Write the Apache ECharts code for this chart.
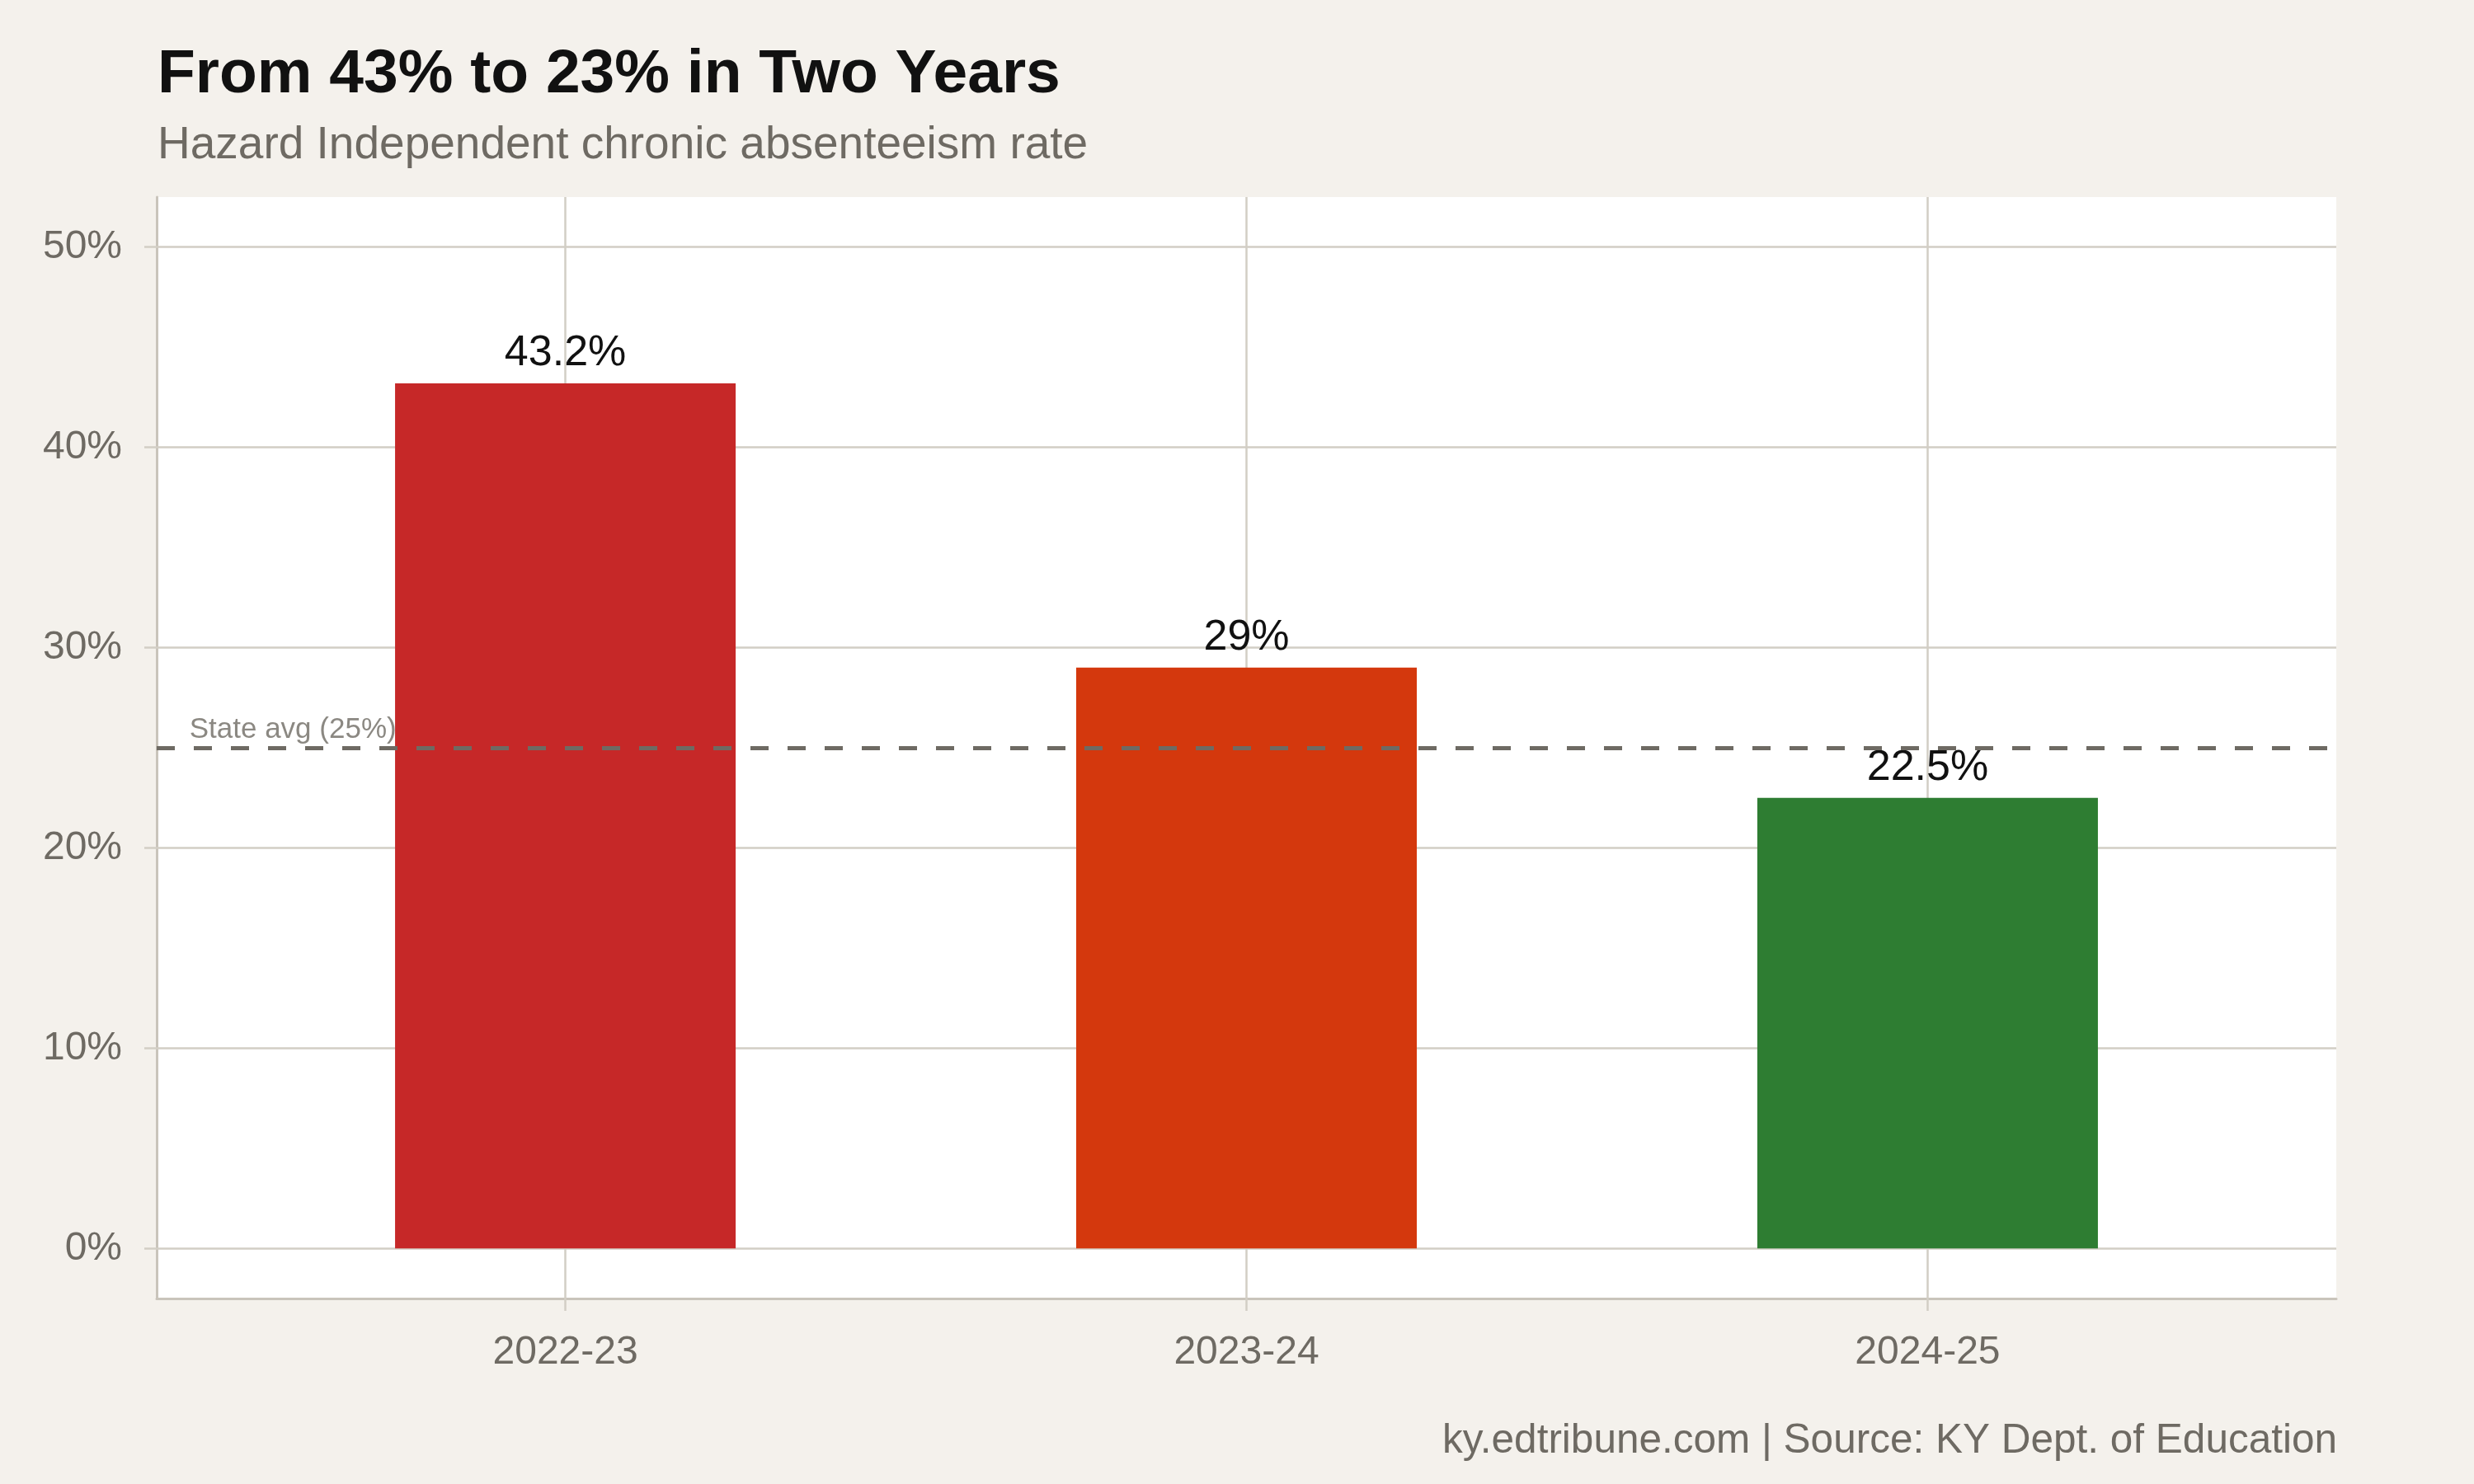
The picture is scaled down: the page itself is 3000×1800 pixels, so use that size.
<!DOCTYPE html>
<html>
<head>
<meta charset="utf-8">
<script src="https://cdn.jsdelivr.net/npm/echarts@6/dist/echarts.min.js"></script>
<style>
html,body{margin:0;padding:0;background:#f4f1ec;}
#chart{width:3000px;height:1800px;}
</style>
</head>
<body>
<div id="chart"></div>
<script>
const categories = ['2022-23', '2023-24', '2024-25'];
const rates = [43.2, 29, 22.5];
const barColors = ['#c62828', '#d4380d', '#2e7d32'];
const yTicks = [0, 10, 20, 30, 40, 50];
const xPositions = [1, 2, 3];
const stateAvg = 25;
const stateAvgLabelX = 0.6;
const stateAvgLabel = 'State avg (25%)';
const titleText = 'From 43% to 23% in Two Years';
const subtitleText = 'Hazard Independent chronic absenteeism rate';
const captionText = 'ky.edtribune.com | Source: KY Dept. of Education';

const FONT = '"Liberation Sans", Arial, Helvetica, sans-serif';
const GRAY = '#6e6a63';
const GRID = '#d2cec5';
const AXIS = '#c9c4bb';

const chart = echarts.init(document.getElementById('chart'), null, {renderer: 'canvas'});
chart.setOption({
  animation: false,
  backgroundColor: '#f4f1ec',
  title: [
    {text: titleText, left: 186, top: 49,
     textStyle: {fontFamily: FONT, fontSize: 75, fontWeight: 'bold', color: '#111'}},
    {text: subtitleText, left: 186, top: 144,
     textStyle: {fontFamily: FONT, fontSize: 55, fontWeight: 'normal', color: GRAY}},
    {text: captionText, right: 161, top: 1718,
     textStyle: {fontFamily: FONT, fontSize: 49.5, fontWeight: 'normal', color: GRAY}}
  ],
  grid: {left: 190, right: 167, top: 239, bottom: 225, show: true,
         backgroundColor: '#ffffff', borderWidth: 0},
  xAxis: {
    type: 'value', min: 0.4, max: 3.6,
    splitLine: {show: false},
    axisLine: {show: true, onZero: false, lineStyle: {color: AXIS, width: 3}},
    axisTick: {show: true, customValues: xPositions, length: 15, lineStyle: {color: GRID, width: 2.5}},
    axisLabel: {customValues: xPositions, formatter: v => categories[Math.round(v) - 1] || '',
                fontFamily: FONT, fontSize: 48, color: GRAY, margin: 42}
  },
  yAxis: {
    type: 'value', min: -2.5, max: 52.5,
    splitLine: {show: false},
    axisLine: {show: true, onZero: false, lineStyle: {color: AXIS, width: 3}},
    axisTick: {show: true, customValues: yTicks, length: 15, lineStyle: {color: GRID, width: 2.5}},
    axisLabel: {customValues: yTicks, formatter: v => v + '%',
                fontFamily: FONT, fontSize: 48, color: GRAY, margin: 42}
  },
  series: [
    {
      type: 'scatter', data: [], z: 1, silent: true,
      markLine: {
        z: 1, silent: true, symbol: 'none', animation: false,
        label: {show: false},
        lineStyle: {color: GRID, width: 2.5, type: 'solid'},
        emphasis: {disabled: true},
        data: yTicks.map(v => ({yAxis: v})).concat(xPositions.map(x => ({xAxis: x})))
      }
    },
    {
      type: 'bar', z: 3, barWidth: 413,
      data: rates.map((v, i) => ({value: [xPositions[i], v], itemStyle: {color: barColors[i]}})),
      label: {show: true, position: 'top', distance: 10,
              formatter: p => p.value[1] + '%',
              fontFamily: FONT, fontSize: 52, color: '#111'}
    },
    {
      type: 'scatter', data: [], z: 6, silent: true,
      markLine: {
        z: 6, silent: true, symbol: 'none', animation: false,
        label: {show: false},
        lineStyle: {color: GRAY, width: 5, type: [22, 23]},
        emphasis: {disabled: true},
        data: [{yAxis: stateAvg}]
      }
    },
    {
      type: 'scatter', z: 7, silent: true, symbolSize: 0,
      data: [[stateAvgLabelX, stateAvg]],
      label: {show: true, position: 'top', distance: 4, formatter: stateAvgLabel,
              fontFamily: FONT, fontSize: 35, color: GRAY}
    }
  ]
});
</script>
</body>
</html>
